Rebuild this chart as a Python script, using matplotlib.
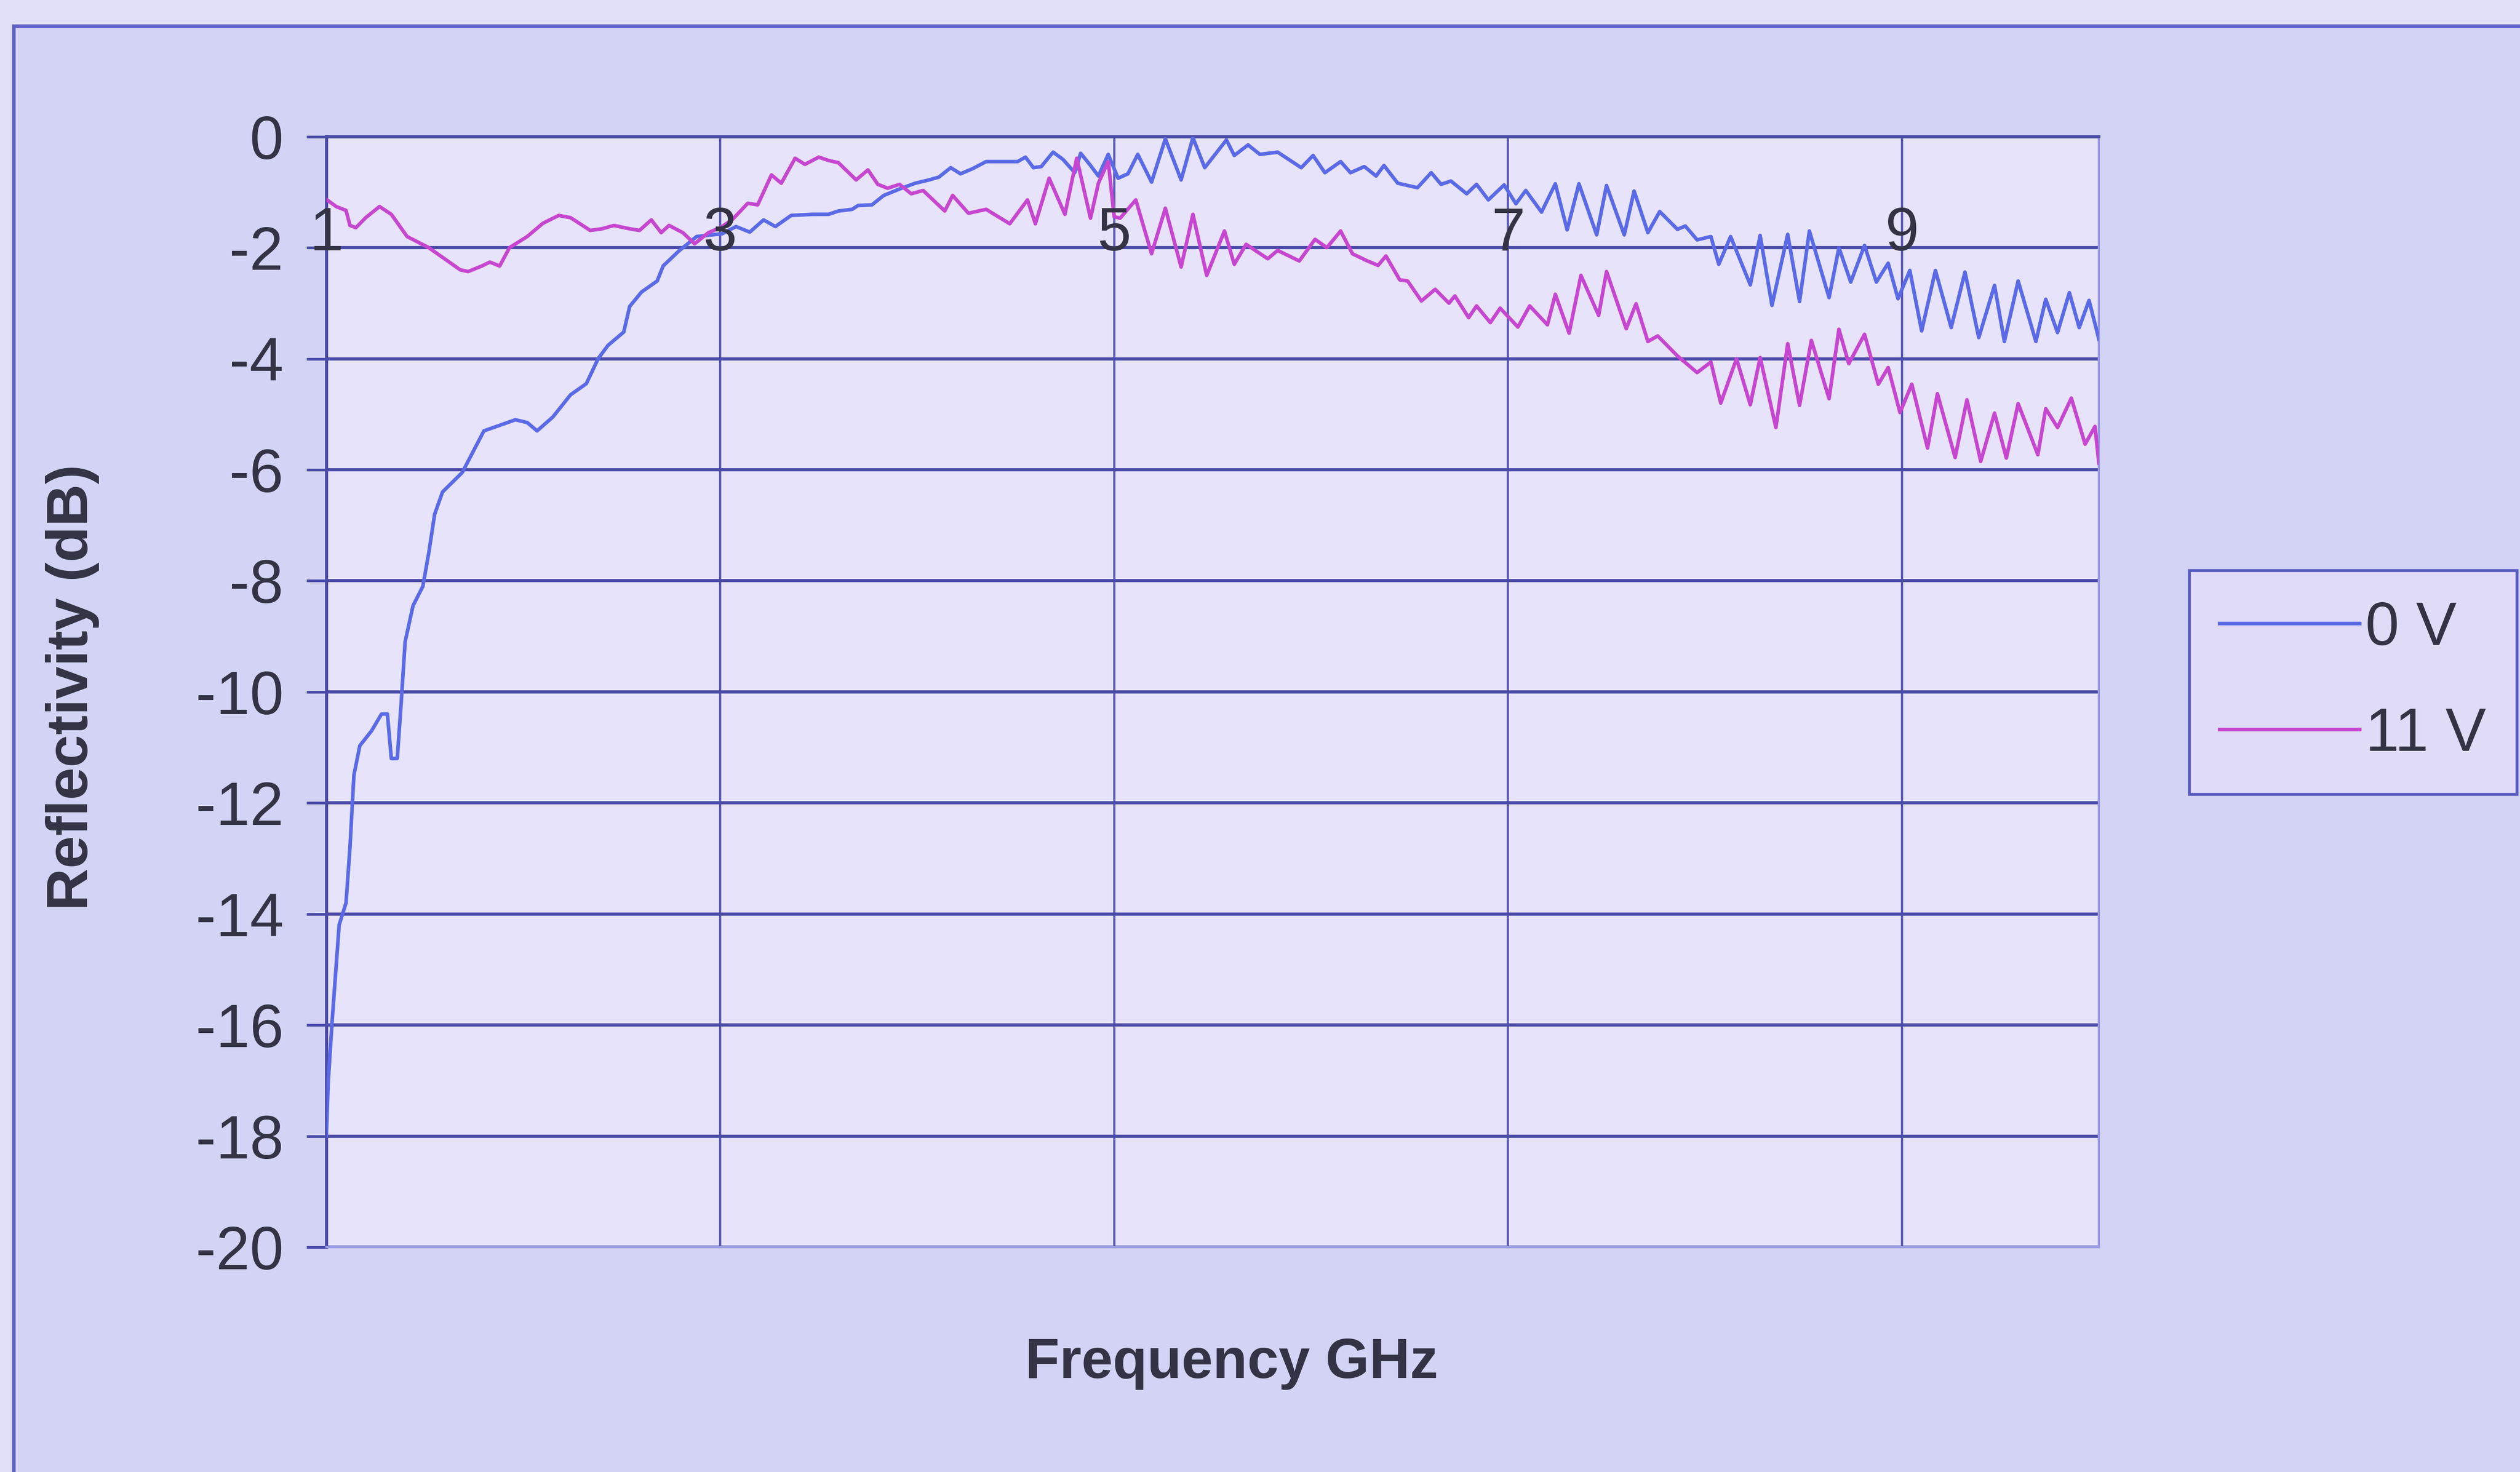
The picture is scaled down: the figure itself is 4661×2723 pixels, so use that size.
import matplotlib
matplotlib.use('Agg')
import matplotlib.pyplot as plt
from matplotlib.patches import Rectangle

plt.rcParams['font.family'] = ['Liberation Sans', 'DejaVu Sans']

# 0 V series (frequency GHz, reflectivity dB)
f_0v = [1.00, 1.01, 1.03, 1.065, 1.10, 1.12, 1.14, 1.17, 1.23, 1.28, 1.31, 1.33,
        1.36, 1.38, 1.40, 1.44, 1.49, 1.52, 1.55, 1.59, 1.69, 1.80, 1.88, 1.96,
        2.02, 2.07, 2.15, 2.24, 2.32, 2.38, 2.43, 2.51, 2.54, 2.60, 2.68, 2.71,
        2.79, 2.88, 3.01, 3.08, 3.15, 3.22, 3.28, 3.36, 3.47, 3.55, 3.60, 3.67,
        3.70, 3.77, 3.83, 3.92, 3.99, 4.06, 4.11, 4.17, 4.22, 4.28, 4.35, 4.44,
        4.51, 4.55, 4.59, 4.63, 4.69, 4.74, 4.80, 4.83, 4.88, 4.92, 4.97, 5.02,
        5.07, 5.12, 5.19, 5.26, 5.34, 5.40, 5.46, 5.57, 5.61, 5.68, 5.74, 5.83,
        5.95, 6.01, 6.07, 6.15, 6.20, 6.27, 6.33, 6.37, 6.44, 6.54, 6.61, 6.66,
        6.71, 6.79, 6.84, 6.90, 6.98, 7.04, 7.09, 7.17, 7.24, 7.30, 7.36, 7.45,
        7.50, 7.59, 7.64, 7.71, 7.77, 7.86, 7.90, 7.96, 8.03, 8.07, 8.13, 8.23,
        8.28, 8.34, 8.42, 8.48, 8.53, 8.63, 8.68, 8.74, 8.81, 8.87, 8.93, 8.98,
        9.04, 9.10, 9.17, 9.25, 9.32, 9.39, 9.47, 9.52, 9.59, 9.68, 9.73, 9.79,
        9.85, 9.90, 9.95, 10.00]
r_0v = [-18.0, -17.0, -15.9, -14.2, -13.8, -12.8, -11.5, -10.97, -10.7, -10.4, -10.4, -11.2,
        -11.2, -10.2, -9.1, -8.45, -8.1, -7.5, -6.8, -6.4, -6.05, -5.3, -5.2, -5.1,
        -5.15, -5.3, -5.05, -4.65, -4.45, -4.0, -3.76, -3.52, -3.06, -2.8, -2.6, -2.33,
        -2.06, -1.8, -1.75, -1.62, -1.72, -1.5, -1.62, -1.42, -1.4, -1.4, -1.34, -1.31,
        -1.24, -1.23, -1.06, -0.93, -0.84, -0.78, -0.73, -0.56, -0.67, -0.58, -0.45, -0.45,
        -0.45, -0.37, -0.56, -0.54, -0.28, -0.41, -0.65, -0.30, -0.52, -0.71, -0.32, -0.75,
        -0.67, -0.32, -0.82, -0.04, -0.78, -0.02, -0.56, -0.06, -0.34, -0.15, -0.32, -0.28,
        -0.56, -0.34, -0.65, -0.45, -0.65, -0.54, -0.71, -0.52, -0.84, -0.92, -0.65, -0.86,
        -0.80, -1.03, -0.86, -1.14, -0.87, -1.21, -0.97, -1.36, -0.85, -1.68, -0.85, -1.77,
        -0.88, -1.77, -0.98, -1.73, -1.35, -1.67, -1.61, -1.86, -1.80, -2.30, -1.80, -2.67,
        -1.78, -3.04, -1.76, -2.97, -1.70, -2.90, -2.00, -2.62, -1.96, -2.62, -2.28, -2.92,
        -2.41, -3.50, -2.41, -3.44, -2.44, -3.62, -2.68, -3.69, -2.60, -3.69, -2.93, -3.53,
        -2.81, -3.44, -2.95, -3.65]

# 11 V series
f_11v = [1.00, 1.05, 1.10, 1.12, 1.15, 1.20, 1.27, 1.33, 1.41, 1.52, 1.60, 1.68,
         1.72, 1.79, 1.83, 1.88, 1.93, 2.02, 2.10, 2.18, 2.24, 2.34, 2.40, 2.46,
         2.54, 2.59, 2.65, 2.70, 2.74, 2.81, 2.87, 2.94, 3.00, 3.06, 3.14, 3.19,
         3.26, 3.31, 3.38, 3.43, 3.50, 3.55, 3.60, 3.69, 3.75, 3.80, 3.85, 3.91,
         3.97, 4.03, 4.14, 4.18, 4.26, 4.35, 4.47, 4.56, 4.60, 4.67, 4.75, 4.81,
         4.88, 4.92, 4.97, 5.00, 5.03, 5.11, 5.19, 5.26, 5.34, 5.40, 5.47, 5.56,
         5.61, 5.67, 5.78, 5.83, 5.94, 6.02, 6.08, 6.15, 6.21, 6.28, 6.34, 6.38,
         6.45, 6.49, 6.56, 6.63, 6.70, 6.73, 6.80, 6.84, 6.91, 6.96, 7.05, 7.11,
         7.20, 7.24, 7.31, 7.37, 7.46, 7.50, 7.60, 7.65, 7.71, 7.76, 7.86, 7.96,
         8.03, 8.08, 8.16, 8.23, 8.28, 8.36, 8.42, 8.48, 8.54, 8.63, 8.68, 8.73,
         8.81, 8.88, 8.93, 8.99, 9.05, 9.13, 9.18, 9.27, 9.33, 9.40, 9.47, 9.53,
         9.59, 9.69, 9.73, 9.79, 9.86, 9.93, 9.98, 10.00]
r_11v = [-1.13, -1.26, -1.33, -1.6, -1.64, -1.46, -1.26, -1.4, -1.8, -2.0, -2.2, -2.4,
         -2.43, -2.33, -2.26, -2.33, -2.0, -1.8, -1.56, -1.42, -1.46, -1.69, -1.66, -1.6,
         -1.66, -1.69, -1.5, -1.73, -1.6, -1.73, -1.93, -1.73, -1.64, -1.5, -1.2, -1.23,
         -0.69, -0.84, -0.39, -0.50, -0.37, -0.43, -0.47, -0.78, -0.60, -0.86, -0.93, -0.86,
         -1.03, -0.97, -1.34, -1.06, -1.38, -1.31, -1.57, -1.14, -1.57, -0.75, -1.40, -0.39,
         -1.47, -0.84, -0.45, -1.44, -1.47, -1.14, -2.11, -1.29, -2.35, -1.40, -2.50, -1.70,
         -2.30, -1.94, -2.20, -2.05, -2.24, -1.85, -2.00, -1.70, -2.11, -2.23, -2.32, -2.15,
         -2.58, -2.60, -2.96, -2.75, -3.00, -2.87, -3.26, -3.05, -3.35, -3.09, -3.43, -3.05,
         -3.39, -2.84, -3.54, -2.50, -3.22, -2.43, -3.46, -3.01, -3.69, -3.59, -3.95, -4.25,
         -4.06, -4.80, -4.00, -4.83, -3.98, -5.24, -3.73, -4.84, -3.67, -4.72, -3.47, -4.09,
         -3.56, -4.46, -4.16, -4.97, -4.46, -5.61, -4.63, -5.78, -4.74, -5.85, -4.98, -5.79,
         -4.81, -5.73, -4.90, -5.24, -4.71, -5.54, -5.22, -5.88]

y_ticks = list(range(0, -21, -2))
x_marks = [1, 3, 5, 7, 9]
series_names = ['0 V', '11 V']

W, H = 4661, 2723
fig = plt.figure(figsize=(W / 300, H / 300), dpi=300, facecolor='#e2e0f8')

# chart area frame, kept behind the axes
frame = Rectangle((0.0054, -0.01), 1.0, 0.9924, transform=fig.transFigure,
                  facecolor='#d3d3f5', edgecolor='#6060c8', linewidth=1.6, zorder=-5)
fig.patches.append(frame)

ax = fig.add_axes([0.1295, 0.1528, 0.7034, 0.7544])
ax.set_zorder(1)
ax.set_facecolor('#e7e3fa')
ax.set_xlim(1, 10)
ax.set_ylim(-20, 0)

ax.plot(f_0v, r_0v, color='#5a6ae6', lw=1.6, label=series_names[0], zorder=3)
ax.plot(f_11v, r_11v, color='#c646d0', lw=1.6, label=series_names[1], zorder=3)

ax.set_yticks(y_ticks)
ax.set_yticklabels([str(v) for v in y_ticks])
ax.set_xticks(x_marks)
ax.set_xticklabels([])
ax.tick_params(axis='x', length=0)
ax.tick_params(axis='y', direction='out', length=9, width=1.2, color='#4a4aa8',
               labelsize=27, labelcolor='#333345', pad=10)

ax.grid(axis='y', color='#4a4aa8', lw=1.4)
ax.grid(axis='x', color='#5a5ab8', lw=1.0)
ax.set_axisbelow(True)

for side in ['left', 'top']:
    ax.spines[side].set_color('#4a4aa8')
    ax.spines[side].set_linewidth(1.4)
for side in ['right', 'bottom']:
    ax.spines[side].set_color('#9a9ae6')
    ax.spines[side].set_linewidth(1.0)

# category labels sit inside the plot, just above the -2 gridline
for xv in x_marks:
    ax.text(xv, -1.77, str(xv), ha='center', va='center', fontsize=27,
            color='#333345', zorder=4)

fig.text(0.0287, 0.533, 'Reflectivity (dB)', rotation=90, ha='center', va='center',
         fontsize=26, fontweight='bold', color='#333345')
fig.text(0.4888, 0.0738, 'Frequency GHz', ha='center', va='center',
         fontsize=25, fontweight='bold', color='#333345')

leg = fig.legend(loc='center', bbox_to_anchor=(0.9337, 0.5366), fontsize=27,
                 handlelength=2.3, handletextpad=0.1, labelspacing=0.8,
                 borderpad=0.5, fancybox=False, framealpha=1)
leg.get_frame().set_facecolor('#e0dcf8')
leg.get_frame().set_edgecolor('#5a5ac0')
leg.get_frame().set_linewidth(1.3)
for t in leg.get_texts():
    t.set_color('#333345')

fig.savefig('out.png', dpi=300, facecolor=fig.get_facecolor())
